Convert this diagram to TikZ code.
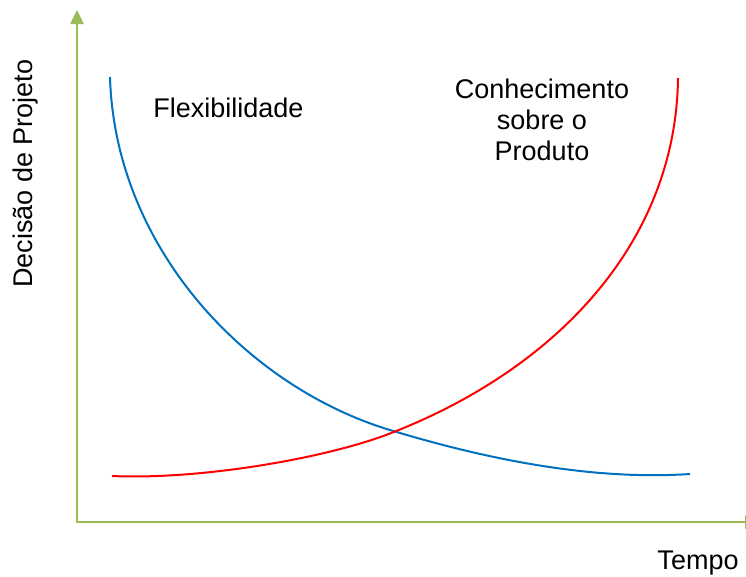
\documentclass[tikz,border=0pt]{standalone}
\usepackage{fontspec}
\setmainfont{Liberation Sans}
\usetikzlibrary{arrows.meta}
\definecolor{axisgreen}{HTML}{9BBB59}
\definecolor{flexblue}{HTML}{0070C0}
\definecolor{knowred}{HTML}{FF0000}
\tikzset{
	axis/.style={axisgreen, line width=2.5pt, -{Triangle[length=14pt, width=13pt]}},
	curve/.style={line width=2pt},
	label/.style={font=\fontsize{27}{31}\selectfont, inner sep=0pt, align=center}
}

\begin{document}
\begin{tikzpicture}[x=1pt, y=-1pt]
	% canvas: 746 x 576, one unit = one pixel
	\useasboundingbox (0,0) rectangle (746,576);
	% axes
	\coordinate (origin) at (77,522);
	\coordinate (ytop) at (77,10);
	\coordinate (xend) at (759,522);
	\draw[axis] (origin) -- (ytop);
	\draw[axis] ([xshift=-1.25pt]origin) -- (xend);
	
	% flexibility falls with time
	\coordinate (flexstart) at (110,77);
	\coordinate (cross) at (395,431.5);
	\coordinate (flexend) at (690,474);
	\draw[curve, flexblue] (flexstart) .. controls (115,250) and (250,390) .. (cross)
		.. controls (500,463) and (600,480) .. (flexend);
	% knowledge about the product grows with time
	\coordinate (knowstart) at (112,476);
	\coordinate (knowend) at (678,78);
	\draw[curve, knowred] (knowstart) .. controls (200,480) and (330,458) .. (cross)
		.. controls (560,366) and (676,240) .. (knowend);
	
	% labels
	\node[label, anchor=base] (flex) at (228.5,117) {Flexibilidade};
	\node[label, anchor=base] (know) at (542,160) {Conhecimento\\sobre o\\Produto};
	\node[label, anchor=base, rotate=90] (ylabel) at (32,173.5) {Decisão de Projeto};
	\node[label, anchor=base] (xlabel) at (698,569) {Tempo};
\end{tikzpicture}
\end{document}
